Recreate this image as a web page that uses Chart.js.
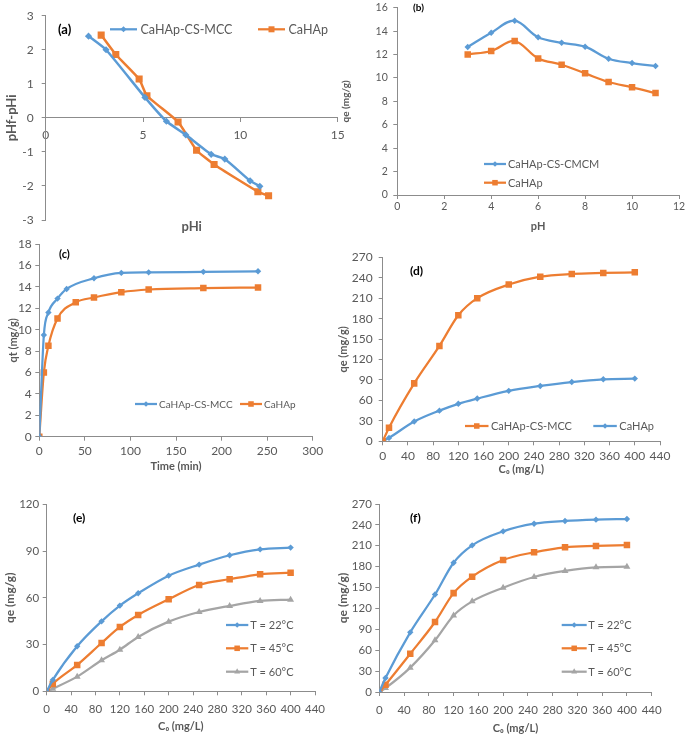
<!DOCTYPE html>
<html><head><meta charset="utf-8">
<script src="https://cdn.jsdelivr.net/npm/chart.js@4.4.1/dist/chart.umd.min.js"></script>
<style>
html,body{margin:0;padding:0;background:#fff;}
#wrap{position:relative;width:685px;height:736px;overflow:hidden;background:#fff;}
canvas{position:absolute;}
</style>
</head><body><div id="wrap"></div>
<script>
// ---------- DATA ----------
// (a) point of zero charge
const a_mcc_x = [2.2, 3.1, 5.1, 6.2, 7.2, 8.5, 9.2, 10.5, 11.0];
const a_mcc_y = [2.4, 2.0, 0.6, -0.1, -0.5, -1.07, -1.21, -1.85, -2.01];
const a_hap_x = [2.85, 3.6, 4.8, 5.2, 6.8, 7.75, 8.65, 10.9, 11.45];
const a_hap_y = [2.43, 1.86, 1.14, 0.65, -0.12, -0.95, -1.37, -2.17, -2.29];
// (b) effect of pH
const b_ph   = [3, 4, 5, 6, 7, 8, 9, 10, 11];
const b_cmcm = [12.64, 13.86, 14.89, 13.47, 13.01, 12.67, 11.64, 11.27, 11.02];
const b_hap  = [12.01, 12.3, 13.15, 11.67, 11.13, 10.39, 9.65, 9.2, 8.71];
// (c) kinetics
const c_t_mcc = [0, 5, 10, 20, 30, 60, 90, 120, 180, 240];
const c_mcc   = [0, 9.5, 11.6, 12.9, 13.8, 14.8, 15.3, 15.35, 15.4, 15.45];
const c_t_hap = [0, 5, 10, 20, 40, 60, 90, 120, 180, 240];
const c_hap   = [0, 6.0, 8.5, 11.05, 12.55, 13.0, 13.5, 13.75, 13.88, 13.93];
// (d)-(f) isotherms
const c0 = [0, 10, 50, 90, 120, 150, 200, 250, 300, 350, 400];
const d_mcc = [0, 20, 85, 140, 185, 210, 230, 241.5, 245.5, 247, 248];
const d_hap = [0, 5, 29, 45, 55, 62.7, 74, 81.2, 87, 91, 92];
const e_22 = [0, 7.3, 28.9, 44.9, 55, 62.9, 74.2, 81.3, 87.3, 91.1, 92.2];
const e_45 = [0, 4.7, 16.9, 31, 41.3, 49, 59, 68.2, 71.9, 75.1, 76.1];
const e_60 = [0, 1.7, 9.4, 19.9, 26.7, 34.9, 44.7, 50.9, 54.8, 58, 58.8];
const f_22 = [0, 20, 85.7, 140, 185.7, 210.6, 230.7, 241.7, 245.6, 247.5, 248.4];
const f_45 = [0, 10.5, 55, 100.5, 142, 165.6, 189.6, 200.6, 207.8, 209.7, 211];
const f_60 = [0, 5.7, 35, 74.2, 110, 130.2, 149.8, 165.2, 173.8, 179, 180];
// tick settings
const ticksA = {x:[0,15,5], y:[-3,3,1]};
const ticksB = {x:[0,12,2], y:[0,16,2]};
const ticksC = {x:[0,300,50], y:[0,18,2]};
const ticksD = {x:[0,440,40], y:[0,270,30]};
const ticksE = {x:[0,440,40], y:[0,120,30]};
const ticksF = {x:[0,440,40], y:[0,270,30]};

// ---------- STYLE ----------
const BLUE='#5B9BD5', ORANGE='#ED7D31', GRAY='#A5A5A5', AXIS='#8C8C8C', TXT='#595959';
const FONT='Lato, "Open Sans", sans-serif';
const wrap = document.getElementById('wrap');

function pts(xs, ys){ return xs.map((x,i)=>({x:x, y:ys[i]})); }
function series(label, xs, ys, color, style, radius, extra){
  return Object.assign({label, data: pts(xs,ys), borderColor: color, backgroundColor: color,
    pointStyle: style, pointRadius: radius, pointHoverRadius: radius, pointBorderWidth: 0,
    borderWidth: 2.25, showLine: true, fill: false}, extra||{});
}

function marker(ctx, style, x, y, r){
  ctx.beginPath();
  if(style==='rectRot'){ ctx.moveTo(x-r,y); ctx.lineTo(x,y-r); ctx.lineTo(x+r,y); ctx.lineTo(x,y+r); ctx.closePath(); }
  else if(style==='rect'){ const s=r*Math.SQRT1_2; ctx.rect(x-s,y-s,2*s,2*s); }
  else if(style==='triangle'){ ctx.moveTo(x,y-r); ctx.lineTo(x+r*0.866,y+r*0.5); ctx.lineTo(x-r*0.866,y+r*0.5); ctx.closePath(); }
  else { ctx.arc(x,y,r,0,Math.PI*2); }
  ctx.fill();
}

function deco(p){
  return { id:'deco', afterDraw(chart){
    const ctx = chart.ctx; const ox = p.box.x, oy = p.box.y;
    ctx.save();
    (p.legend.items||[]).forEach(it=>{
      const ds = chart.data.datasets[it.ds];
      const x = it.x-ox, y = it.y-oy, L = p.legend.len;
      ctx.strokeStyle = ds.borderColor; ctx.lineWidth = 2.25;
      ctx.beginPath(); ctx.moveTo(x,y); ctx.lineTo(x+L,y); ctx.stroke();
      ctx.fillStyle = ds.backgroundColor;
      marker(ctx, ds.pointStyle, x+L/2, y, ds.pointRadius*0.85);
      ctx.fillStyle = TXT; ctx.font = p.legend.size+'px '+FONT;
      ctx.textAlign='left'; ctx.textBaseline='middle';
      ctx.fillText(ds.label, x+L+p.legend.gap, y+0.5);
    });
    (p.texts||[]).forEach(t=>{
      ctx.fillStyle = t.color||'#000'; ctx.font = (t.bold?'bold ':'')+t.size+'px '+FONT;
      ctx.textAlign = t.align||'left'; ctx.textBaseline='middle';
      ctx.fillText(t.text, t.x-ox, t.y-oy);
    });
    ctx.restore();
  }};
}

function makePanel(p){
  const c = document.createElement('canvas');
  c.width = p.box.w; c.height = p.box.h;
  c.style.left = p.box.x+'px'; c.style.top = p.box.y+'px';
  c.style.width = p.box.w+'px'; c.style.height = p.box.h+'px';
  wrap.appendChild(c);
  const L = p.plot.l - p.box.x, T = p.plot.t - p.box.y;
  const R = p.box.x + p.box.w - p.plot.r, B = p.box.y + p.box.h - p.plot.b;
  const ylh = p.yTitle.size*1.2, xlh = p.xTitle.size*1.2;
  const axisCommon = {
    type:'linear',
    grid:{display:true, drawOnChartArea:false, drawTicks:true, tickLength:4, color:AXIS, lineWidth:1},
    border:{display:true, color:AXIS, width:1}
  };
  const xs = Object.assign({}, axisCommon, {
    min:p.ticks.x[0], max:p.ticks.x[1],
    position: p.mid ? {y:0} : 'bottom',
    ticks:{stepSize:p.ticks.x[2], color:TXT, font:{family:FONT,size:p.tickSize}, padding:p.xPad, maxRotation:0, autoSkip:false},
    title: p.mid ? {display:false} : {display:true, text:p.xTitle.text, color:TXT,
      font:{family:FONT,size:p.xTitle.size,weight:'bold'},
      padding:{top:0, bottom: Math.max(0,(p.box.h - (p.xTitle.y - p.box.y)) - xlh/2)}},
    afterFit(s){ if(!p.mid) s.height = B; s.paddingLeft = 0; s.paddingRight = 0; }
  });
  const ys = Object.assign({}, axisCommon, {
    min:p.ticks.y[0], max:p.ticks.y[1], position:'left',
    ticks:{stepSize:p.ticks.y[2], color:TXT, font:{family:FONT,size:p.tickSize}, padding:p.yPad, autoSkip:false},
    title:{display:true, text:p.yTitle.text, color:TXT, font:{family:FONT,size:p.yTitle.size,weight:'bold'},
      padding:{top: Math.max(0,(p.yTitle.x - p.box.x) - ylh/2), bottom:0}},
    afterFit(s){ s.width = L; s.paddingTop = 0; s.paddingBottom = 0; }
  });
  new Chart(c, {
    type:'line',
    data:{datasets:p.datasets},
    options:{
      responsive:false, animation:false, devicePixelRatio:1,
      layout:{padding:{left:0, top:T, right:R, bottom: p.mid ? B : 0}},
      scales:{x:xs, y:ys},
      plugins:{legend:{display:false}, tooltip:{enabled:false}},
      elements:{line:{tension:p.tension||0, cubicInterpolationMode:p.mono?'monotone':'default'}}
    },
    plugins:[deco(p)]
  });
}

// (a)
makePanel({
  box:{x:0,y:0,w:352,h:240}, plot:{l:45.7,t:15.7,r:337.7,b:220}, mid:true,
  ticks:ticksA, tickSize:12, xPad:6, yPad:8, tension:0.15,
  xTitle:{text:'pHi', size:13, y:226.7}, yTitle:{text:'pHf-pHi', size:13, x:12},
  datasets:[
    series('CaHAp-CS-MCC', a_mcc_x, a_mcc_y, BLUE, 'rectRot', 3.6, {borderWidth:2.5}),
    series('CaHAp', a_hap_x, a_hap_y, ORANGE, 'rect', 5, {borderWidth:2.5})
  ],
  legend:{len:27, gap:3.5, size:12.5, items:[{ds:0,x:110,y:29.3},{ds:1,x:258,y:29.3}]},
  texts:[{text:'(a)', x:58, y:30, size:13, bold:true},
         {text:'pHi', x:191.7, y:226.7, size:13, bold:true, align:'center', color:TXT}]
});
// (b)
makePanel({
  box:{x:330,y:0,w:355,h:240}, plot:{l:397.3,t:7.7,r:679,b:195},
  ticks:ticksB, tickSize:10.5, xPad:1, yPad:5.5, tension:0.35,
  xTitle:{text:'pH', size:11, y:226.7}, yTitle:{text:'qe (mg/g)', size:10, x:345.5},
  datasets:[
    series('CaHAp-CS-CMCM', b_ph, b_cmcm, BLUE, 'rectRot', 3.2, {borderWidth:2.25}),
    series('CaHAp', b_ph, b_hap, ORANGE, 'rect', 4.6, {borderWidth:2.25})
  ],
  legend:{len:22, gap:2, size:11, items:[{ds:0,x:484,y:164},{ds:1,x:484,y:182.7}]},
  texts:[{text:'(b)', x:413, y:7.5, size:10, bold:true}]
});
// (c)
makePanel({
  box:{x:0,y:228,w:352,h:252}, plot:{l:39.3,t:244,r:312.7,b:436.7},
  ticks:ticksC, tickSize:12, xPad:3, yPad:3.5, mono:true,
  xTitle:{text:'Time (min)', size:11, y:466.7}, yTitle:{text:'qt (mg/g)', size:11, x:13.3},
  datasets:[
    series('CaHAp-CS-MCC', c_t_mcc, c_mcc, BLUE, 'rectRot', 3.2),
    series('CaHAp', c_t_hap, c_hap, ORANGE, 'rect', 4.6)
  ],
  legend:{len:22, gap:2, size:10, items:[{ds:0,x:135,y:404},{ds:1,x:240,y:404}]},
  texts:[{text:'(c)', x:59, y:254, size:11, bold:true}]
});
// (d)
makePanel({
  box:{x:330,y:240,w:355,h:240}, plot:{l:382.7,t:257.3,r:660,b:441.3},
  ticks:ticksD, tickSize:12, xPad:3.5, yPad:6, mono:true,
  xTitle:{text:'C\u2080 (mg/L)', size:11, y:469.3}, yTitle:{text:'qe (mg/g)', size:11, x:343},
  datasets:[
    series('CaHAp-CS-MCC', c0, d_mcc, ORANGE, 'rect', 4.6),
    series('CaHAp', c0, d_hap, BLUE, 'rectRot', 3.2)
  ],
  legend:{len:23.5, gap:2.5, size:11, items:[{ds:0,x:465,y:426},{ds:1,x:593.3,y:426}]},
  texts:[{text:'(d)', x:410, y:270.7, size:12, bold:true}]
});
// (e)
makePanel({
  box:{x:0,y:480,w:352,h:256}, plot:{l:46.7,t:504.3,r:315,b:691.3},
  ticks:ticksE, tickSize:11.5, xPad:7, yPad:3.5, mono:true,
  xTitle:{text:'C\u2080 (mg/L)', size:11, y:726.7}, yTitle:{text:'qe (mg/g)', size:12, x:10},
  datasets:[
    series('T = 22\u00b0C', c0, e_22, BLUE, 'rectRot', 3.2),
    series('T = 45\u00b0C', c0, e_45, ORANGE, 'rect', 4.6),
    series('T = 60\u00b0C', c0, e_60, GRAY, 'triangle', 4)
  ],
  legend:{len:22.3, gap:2, size:11, items:[{ds:0,x:226,y:625},{ds:1,x:226,y:648.3},{ds:2,x:226,y:671.7}]},
  texts:[{text:'(e)', x:73, y:518.3, size:12, bold:true}]
});
// (f)
makePanel({
  box:{x:330,y:480,w:355,h:256}, plot:{l:379.3,t:504,r:651.7,b:692},
  ticks:ticksF, tickSize:11.5, xPad:7, yPad:3.5, mono:true,
  xTitle:{text:'C\u2080 (mg/L)', size:11, y:728.3}, yTitle:{text:'qe (mg/g)', size:12, x:343.3},
  datasets:[
    series('T = 22\u00b0C', c0, f_22, BLUE, 'rectRot', 3.2),
    series('T = 45\u00b0C', c0, f_45, ORANGE, 'rect', 4.6),
    series('T = 60\u00b0C', c0, f_60, GRAY, 'triangle', 4)
  ],
  legend:{len:25, gap:1.6, size:11, items:[{ds:0,x:561.7,y:625},{ds:1,x:561.7,y:648.3},{ds:2,x:561.7,y:671.7}]},
  texts:[{text:'(f)', x:410, y:518.3, size:12, bold:true}]
});
</script>
</body></html>
